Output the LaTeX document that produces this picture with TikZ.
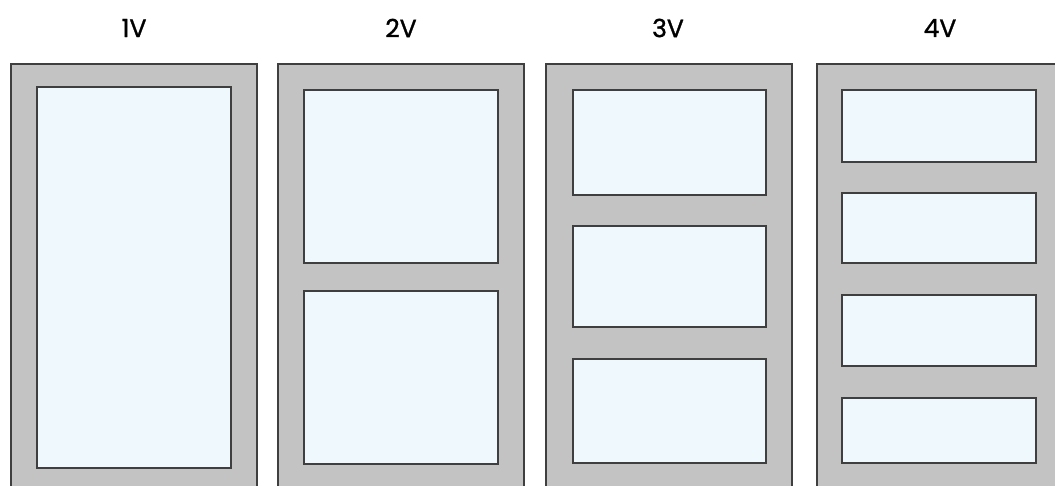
\documentclass[tikz,border=0pt]{standalone}
\usepackage{fontspec}
\setmainfont{Poppins}
\newfontfamily\titlefont[FakeBold=1.2]{Poppins}
\definecolor{framegray}{HTML}{C3C3C3}
\definecolor{paneblue}{HTML}{EEF8FD}
\definecolor{edgegray}{HTML}{3F3F3F}
\tikzset{
  frame/.style={draw=edgegray, fill=framegray, line width=1.8pt},
  pane/.style={draw=edgegray, fill=paneblue, line width=1.8pt},
  title/.style={font=\titlefont\fontsize{25}{30}\selectfont, text=black}
}
\begin{document}
\begin{tikzpicture}[x=1pt, y=-1pt]
			\useasboundingbox (0,0) rectangle (1055,486);
			\clip (0,0) rectangle (1055,486);

			\node [title] (t1) at (134,28) {1V};
			\node [title] (t2) at (401,28) {2V};
			\node [title] (t3) at (668,28) {3V};
			\node [title] (t4) at (940,28) {4V};

			% 1V
			\draw [frame] (11,64) rectangle (257,500);
			\draw [pane] (37,87) rectangle (231,468);

			% 2V
			\draw [frame] (278,64) rectangle (524,500);
			\draw [pane] (304,90) rectangle (498,263);
			\draw [pane] (304,291) rectangle (498,464);

			% 3V
			\draw [frame] (546,64) rectangle (792,500);
			\draw [pane] (573,90) rectangle (766,195);
			\draw [pane] (573,226) rectangle (766,327);
			\draw [pane] (573,359) rectangle (766,463);

			% 4V
			\draw [frame] (817,64) rectangle (1063,500);
			\draw [pane] (842,90) rectangle (1036,162);
			\draw [pane] (842,193) rectangle (1036,263);
			\draw [pane] (842,295) rectangle (1036,366);
			\draw [pane] (842,398) rectangle (1036,463);
		\end{tikzpicture}
\end{document}
